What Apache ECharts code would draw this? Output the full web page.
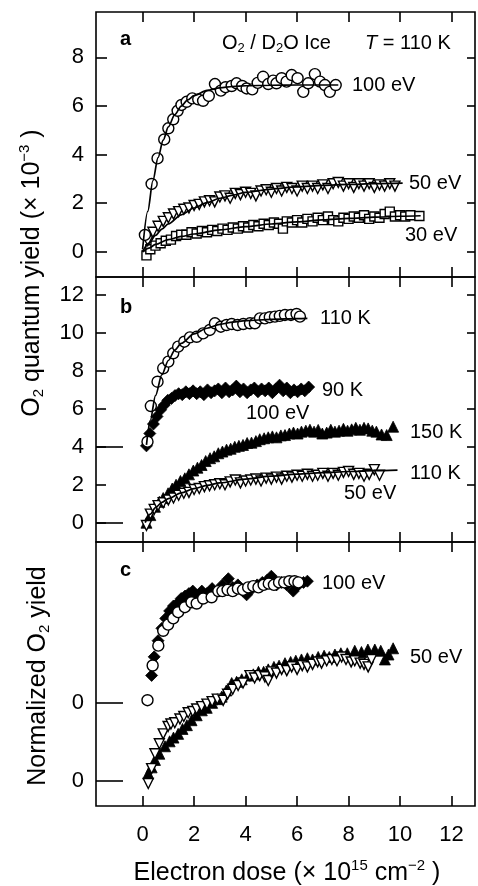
<!DOCTYPE html>
<html>
<head>
<meta charset="utf-8">
<title>O2 quantum yield vs electron dose</title>
<script src="https://cdn.jsdelivr.net/npm/echarts@6/dist/echarts.min.js"></script>
<style>
html, body { margin: 0; padding: 0; background: #fff; }
#main { width: 478px; height: 886px; }
</style>
</head>
<body>
<div id="main"></div>
<script>
// tick positions
var doseTicks = [0, 2, 4, 6, 8, 10, 12];
var yieldTicksA = [0, 2, 4, 6, 8];
var yieldTicksB = [0, 2, 4, 6, 8, 10, 12];
var zeroTicksB = [0, 4];
var zeroTicksC = [0];

// panel a: O2 / D2O ice, T = 110 K  [dose, yield x1e-3]
var a100eV = [[0.09,0.69],[0.35,2.79],[0.58,3.84],[0.84,4.62],[1.0,5.08],[1.19,5.45],[1.36,5.8],[1.51,6.04],
  [1.71,6.17],[1.93,6.31],[2.16,6.27],[2.35,6.21],[2.57,6.41],[2.81,6.9],[3.04,6.63],[3.22,6.77],[3.46,6.82],
  [3.65,6.93],[3.87,6.82],[4.04,6.72],[4.26,6.68],[4.47,6.95],[4.68,7.2],[4.88,6.9],[5.07,7.04],[5.2,6.93],
  [5.4,7.14],[5.59,7.0],[5.79,7.27],[6.02,7.14],[6.24,6.58],[6.43,6.93],[6.69,7.31],[6.89,7.0],[7.08,6.86],
  [7.27,6.58],[7.5,6.86]];
var a100eVFit = [[0,0.1],[0.2,1.66],[0.4,2.92],[0.6,3.87],[0.8,4.59],[1.0,5.14],[1.25,5.64],[1.5,5.99],
  [1.75,6.25],[2.0,6.42],[2.5,6.64],[3.0,6.74],[3.5,6.8],[4,6.83],[5,6.85],[6,6.86],[7,6.86],[7.6,6.86]];
var a50eV = [[0.2,0.45],[0.4,0.8],[0.6,1.05],[0.8,1.25],[1.0,1.4],[1.2,1.55],[1.4,1.65],[1.6,1.75],[1.8,1.8],
  [2.0,1.9],[2.2,1.95],[2.4,2.05],[2.6,2.1],[2.8,2.05],[3.0,2.25],[3.2,2.3],[3.4,2.2],[3.6,2.4],[3.8,2.35],
  [4.0,2.45],[4.2,2.4],[4.4,2.3],[4.6,2.5],[4.8,2.55],[5.0,2.45],[5.2,2.6],[5.4,2.5],[5.6,2.65],[5.8,2.6],
  [6.0,2.5],[6.2,2.7],[6.4,2.6],[6.6,2.7],[6.8,2.6],[7.0,2.75],[7.2,2.6],[7.4,2.8],[7.6,2.85],[7.8,2.7],
  [8.0,2.8],[8.2,2.65],[8.4,2.8],[8.6,2.7],[8.8,2.8],[9.0,2.65],[9.2,2.75],[9.4,2.7],[9.6,2.8],[9.8,2.7]];
var a50eVFit = [[0,0],[0.25,0.35],[0.5,0.67],[0.75,0.93],[1,1.15],[1.5,1.52],[2,1.8],[2.5,2.02],[3,2.2],
  [3.5,2.33],[4,2.44],[5,2.58],[6,2.67],[7,2.73],[8,2.77],[9,2.8],[10.1,2.82]];
var a30eV = [[0.15,-0.15],[0.3,0.1],[0.5,0.25],[0.7,0.35],[0.9,0.45],[1.1,0.5],[1.3,0.65],[1.5,0.7],[1.7,0.7],
  [1.9,0.8],[2.1,0.75],[2.3,0.85],[2.5,0.8],[2.7,0.9],[2.9,0.85],[3.1,0.95],[3.3,0.9],[3.5,1.0],[3.7,0.95],
  [3.9,1.05],[4.1,1.0],[4.3,1.1],[4.5,1.05],[4.7,1.15],[4.9,1.1],[5.1,1.2],[5.3,1.15],[5.45,0.95],[5.6,1.25],
  [5.8,1.2],[6.0,1.3],[6.2,1.2],[6.4,1.35],[6.6,1.25],[6.8,1.4],[7.0,1.3],[7.2,1.45],[7.4,1.3],[7.6,1.25],
  [7.8,1.4],[8.0,1.35],[8.2,1.45],[8.4,1.4],[8.6,1.5],[8.8,1.35],[9.0,1.45],[9.2,1.4],[9.4,1.55],[9.6,1.65],
  [9.8,1.45],[10.0,1.5],[10.2,1.45],[10.4,1.5],[10.75,1.47]];
var a30eVFit = [[0,0],[0.25,0.15],[0.5,0.3],[1,0.5],[1.5,0.63],[2,0.73],[3,0.9],[4,1.03],[5,1.14],[6,1.23],
  [7,1.31],[8,1.37],[9,1.42],[10,1.46],[10.8,1.48]];

// panel b: temperature series
var b110K100eV = [[0.19,4.27],[0.32,6.15],[0.58,7.43],[0.8,8.14],[1.0,8.49],[1.19,8.93],[1.38,9.28],[1.62,9.54],
  [1.84,9.77],[2.1,9.8],[2.35,9.98],[2.61,10.16],[2.81,10.51],[3.04,10.33],[3.26,10.42],[3.46,10.47],[3.69,10.42],
  [3.91,10.47],[4.17,10.51],[4.36,10.51],[4.56,10.77],[4.75,10.77],[4.94,10.83],[5.14,10.86],[5.33,10.9],
  [5.53,10.95],[5.76,10.95],[5.98,11.0],[6.11,10.86]];
var b110K100eVFit = [[0.15,4.1],[0.3,5.4],[0.5,6.7],[0.75,7.8],[1,8.55],[1.25,9.1],[1.5,9.45],[2,9.95],
  [2.5,10.25],[3,10.45],[3.5,10.57],[4,10.65],[5,10.72],[6,10.76],[6.4,10.77]];
var b90K = [[0.15,4.05],[0.28,4.7],[0.42,5.2],[0.56,5.6],[0.7,5.95],[0.84,6.2],[0.98,6.45],[1.12,6.55],[1.26,6.7],
  [1.4,6.8],[1.54,6.75],[1.68,6.9],[1.82,6.8],[1.96,6.95],[2.1,6.8],[2.24,6.9],[2.38,6.75],[2.52,7.0],[2.66,6.85],
  [2.8,6.95],[2.94,7.05],[3.08,6.85],[3.22,7.1],[3.36,6.9],[3.5,7.0],[3.64,7.2],[3.78,6.9],[3.92,7.05],[4.06,6.85],
  [4.2,7.0],[4.34,7.1],[4.48,6.9],[4.62,7.05],[4.76,6.95],[4.9,7.1],[5.04,6.85],[5.18,7.05],[5.32,7.25],[5.46,6.95],
  [5.6,7.1],[5.74,6.85],[5.88,7.0],[6.02,6.9],[6.16,7.05],[6.3,6.95],[6.45,7.15]];
var b150K = [[0.15,0.0],[0.3,0.4],[0.48,0.84],[0.65,1.1],[0.8,1.3],[0.99,1.55],[1.15,1.8],[1.3,2.0],[1.47,2.2],
  [1.64,2.34],[1.8,2.55],[1.97,2.75],[2.13,2.9],[2.29,3.04],[2.45,3.25],[2.62,3.4],[2.78,3.5],[2.94,3.66],[3.1,3.75],
  [3.26,3.85],[3.42,3.9],[3.58,4.0],[3.74,4.05],[3.9,4.1],[4.06,4.2],[4.23,4.22],[4.4,4.3],[4.55,4.4],[4.72,4.45],
  [4.88,4.5],[5.04,4.55],[5.2,4.5],[5.37,4.6],[5.53,4.62],[5.7,4.7],[5.86,4.75],[6.02,4.7],[6.17,4.8],[6.34,4.85],
  [6.5,4.9],[6.66,4.8],[6.82,4.89],[6.98,4.7],[7.15,4.75],[7.31,4.9],[7.47,4.8],[7.63,4.85],[7.8,4.95],[7.96,4.85],
  [8.12,4.92],[8.28,5.0],[8.44,4.9],[8.6,5.0],[8.76,4.97],[8.92,4.85],[9.08,4.8],[9.28,4.65],[9.48,4.62],[9.73,5.06]];
var b110K50eV = [[0.15,-0.15],[0.3,0.45],[0.45,0.7],[0.6,0.9],[0.8,1.05],[1.0,1.2],[1.2,1.3],[1.4,1.45],[1.6,1.55],
  [1.8,1.6],[2.0,1.75],[2.2,1.8],[2.4,1.9],[2.6,1.95],[2.8,2.0],[3.0,2.05],[3.2,2.0],[3.4,2.15],[3.6,2.25],[3.8,2.1],
  [4.0,2.2],[4.2,2.25],[4.4,2.3],[4.6,2.2],[4.8,2.35],[5.0,2.3],[5.2,2.4],[5.4,2.3],[5.6,2.45],[5.8,2.4],[6.0,2.5],
  [6.2,2.45],[6.4,2.55],[6.6,2.45],[6.8,2.5],[7.0,2.6],[7.2,2.45],[7.4,2.6],[7.6,2.5],[7.8,2.65],[8.0,2.7],
  [8.2,2.55],[8.4,2.6],[8.6,2.45],[8.8,2.55],[9.0,2.8],[9.2,2.5]];
var b110K50eVFit = [[0.1,0],[0.3,0.45],[0.5,0.8],[0.75,1.07],[1,1.27],[1.5,1.57],[2,1.8],[2.5,1.97],[3,2.1],
  [4,2.3],[5,2.45],[6,2.56],[7,2.64],[8,2.7],[9,2.74],[9.9,2.77]];

// panel c: normalized yields (each pair has its own zero)
var c100eV110K = [[0.19,0.02],[0.39,0.3],[0.61,0.46],[0.8,0.58],[0.99,0.63],[1.19,0.68],[1.38,0.73],[1.64,0.77],
  [1.9,0.81],[2.1,0.8],[2.35,0.84],[2.68,0.85],[2.94,0.9],[3.1,0.9],[3.3,0.91],[3.5,0.9],[3.7,0.92],[3.9,0.91],
  [4.1,0.93],[4.3,0.94],[4.5,0.93],[4.7,0.95],[4.9,0.96],[5.1,0.95],[5.3,0.97],[5.5,0.97],[5.7,0.98],[5.9,0.98],
  [6.05,0.97]];
var c100eV90K = [[0.35,0.22],[0.45,0.37],[0.6,0.5],[0.75,0.6],[0.9,0.68],[1.05,0.74],[1.2,0.78],[1.35,0.8],
  [1.5,0.84],[1.65,0.86],[1.8,0.88],[1.95,0.9],[2.1,0.86],[2.3,0.9],[2.5,0.88],[2.7,0.92],[2.9,0.9],[3.1,0.95],
  [3.33,1.0],[3.5,0.93],[3.7,0.95],[3.9,0.9],[4.04,0.87],[4.25,0.92],[4.45,0.95],[4.65,0.97],[4.85,0.99],
  [5.0,1.02],[5.2,0.95],[5.4,0.97],[5.6,0.95],[5.85,0.9],[6.05,0.95],[6.25,0.97],[6.4,0.98]];
var c50eV150K = [[0.22,0.06],[0.35,0.11],[0.48,0.17],[0.65,0.22],[0.87,0.28],[1.05,0.32],[1.2,0.35],[1.38,0.38],
  [1.55,0.42],[1.72,0.45],[1.9,0.49],[2.1,0.53],[2.3,0.57],[2.49,0.59],[2.7,0.63],[2.9,0.66],[3.07,0.68],[3.25,0.73],
  [3.46,0.79],[3.65,0.8],[3.85,0.82],[4.1,0.85],[4.3,0.86],[4.5,0.88],[4.7,0.88],[4.88,0.9],[5.1,0.92],[5.3,0.93],
  [5.53,0.95],[5.75,0.96],[5.95,0.97],[6.17,0.98],[6.4,0.99],[6.6,0.98],[6.82,1.0],[7.05,1.01],[7.25,1.0],
  [7.47,1.02],[7.7,1.03],[7.95,1.03],[8.24,1.05],[8.5,1.04],[8.75,1.06],[9.02,1.06],[9.25,1.05],[9.41,0.98],
  [9.55,1.02],[9.73,1.07]];
var c50eV110K = [[0.22,-0.02],[0.35,0.1],[0.48,0.22],[0.65,0.3],[0.8,0.38],[0.99,0.44],[1.1,0.46],[1.25,0.47],
  [1.45,0.5],[1.6,0.52],[1.77,0.55],[1.95,0.56],[2.1,0.58],[2.29,0.6],[2.5,0.62],[2.7,0.64],[2.9,0.66],[3.13,0.65],
  [3.3,0.7],[3.5,0.74],[3.71,0.77],[3.9,0.79],[4.17,0.85],[4.35,0.83],[4.55,0.85],[4.75,0.84],[4.88,0.81],[5.0,0.88],
  [5.2,0.87],[5.4,0.9],[5.6,0.89],[5.79,0.92],[6.0,0.9],[6.2,0.93],[6.4,0.92],[6.6,0.94],[6.8,0.96],[6.95,0.95],
  [7.15,0.97],[7.35,0.98],[7.55,0.97],[7.73,1.0],[7.9,0.98],[8.1,0.96],[8.24,0.97],[8.45,0.95],[8.6,0.94],
  [8.76,0.92],[8.89,0.98]];

var FONT = 'Liberation Sans';
var TICK = { color: '#000', width: 1.6 };
var RICH = {
  sub: { fontFamily: FONT, fontSize: 13, lineHeight: 13, verticalAlign: 'bottom', color: '#000' },
  sup: { fontFamily: FONT, fontSize: 13, lineHeight: 13, verticalAlign: 'top', color: '#000' },
  it: { fontFamily: FONT, fontSize: 20, fontStyle: 'italic', color: '#000' }
};
var RICH_BIG = {
  sub: { fontFamily: FONT, fontSize: 15, lineHeight: 15, verticalAlign: 'bottom', color: '#000' },
  sup: { fontFamily: FONT, fontSize: 15, lineHeight: 15, verticalAlign: 'top', color: '#000' }
};

function xPair(g, showLabels) {
  var base = { gridIndex: g, type: 'value', min: -1.81, max: 12.91,
    axisLine: { show: false, onZero: false }, splitLine: { show: false } };
  return [
    Object.assign({}, base, {
      position: 'bottom',
      axisTick: { inside: true, length: 10, customValues: doseTicks, lineStyle: TICK },
      axisLabel: { show: showLabels, customValues: doseTicks, margin: 18, fontSize: 22, fontFamily: FONT, color: '#000' }
    }),
    Object.assign({}, base, {
      position: 'top',
      axisTick: { inside: true, length: 10, customValues: doseTicks, lineStyle: TICK },
      axisLabel: { show: false }
    })
  ];
}

function yAxis(g, min, max, pos, ticks, len, labels) {
  return {
    gridIndex: g, type: 'value', min: min, max: max, position: pos,
    axisLine: { show: false, onZero: false }, splitLine: { show: false },
    axisTick: { inside: true, length: len, customValues: ticks, lineStyle: TICK },
    axisLabel: { show: labels, customValues: ticks, margin: 12, fontSize: 22, fontFamily: FONT, color: '#000' }
  };
}

function dots(data, xi, yi, symbol, size, filled, rotate) {
  return {
    type: 'scatter', data: data, xAxisIndex: xi, yAxisIndex: yi,
    symbol: symbol, symbolSize: size, symbolRotate: rotate || 0, z: 2,
    itemStyle: { color: filled ? '#000' : '#fff', borderColor: '#000', borderWidth: filled ? 0.8 : 1.4, opacity: 1 },
    emphasis: { disabled: true }
  };
}

function fit(data, xi, yi) {
  return {
    type: 'line', data: data, xAxisIndex: xi, yAxisIndex: yi, showSymbol: false, symbol: 'none',
    smooth: 0.3, smoothMonotone: 'x', z: 3,
    lineStyle: { color: '#000', width: 1.7 }
  };
}

function txt(text, x, y, opt) {
  opt = opt || {};
  return {
    type: 'text', x: x, y: y, rotation: opt.rotation || 0, z: 10,
    style: {
      text: text, fill: '#000', fontFamily: FONT, fontSize: opt.size || 20,
      fontWeight: opt.bold ? 'bold' : 'normal', lineHeight: opt.lh || 24,
      align: opt.align || 'left', verticalAlign: 'middle',
      textAlign: opt.align || 'left', textVerticalAlign: 'middle',
      rich: opt.rich || RICH
    }
  };
}

var chart = echarts.init(document.getElementById('main'), null, { renderer: 'canvas' });

var option = {
  backgroundColor: '#fff',
  animation: false,
  grid: [
    { left: 96, top: 12, width: 379, height: 265, show: true, borderColor: '#000', borderWidth: 1.6, outerBoundsMode: 'none' },
    { left: 96, top: 277, width: 379, height: 265, show: true, borderColor: '#000', borderWidth: 1.6, outerBoundsMode: 'none' },
    { left: 96, top: 542, width: 379, height: 264, show: true, borderColor: '#000', borderWidth: 1.6, outerBoundsMode: 'none' }
  ],
  xAxis: [].concat(xPair(0, false), xPair(1, false), xPair(2, true)),
  yAxis: [
    yAxis(0, -1.04, 9.865, 'left', yieldTicksA, 11, true),     // 0
    yAxis(0, -1.04, 9.865, 'right', yieldTicksA, 8, false),    // 1
    yAxis(1, -1.017, 12.95, 'left', yieldTicksB, 10, true),    // 2
    yAxis(1, -1.017, 12.95, 'right', yieldTicksB, 8, false),   // 3
    yAxis(1, -1.017, 12.95, 'left', zeroTicksB, 27, false),    // 4
    yAxis(2, -0.2016, 1.927, 'left', zeroTicksC, 27, true),    // 5 : 50 eV zero
    yAxis(2, -0.833, 1.296, 'left', zeroTicksC, 27, true)      // 6 : 100 eV zero
  ],
  series: [
    dots(a30eV, 0, 0, 'rect', 9, false),
    dots(a50eV, 0, 0, 'triangle', 10, false, 180),
    dots(a100eV, 0, 0, 'circle', 11, false),
    fit(a30eVFit, 0, 0),
    fit(a50eVFit, 0, 0),
    fit(a100eVFit, 0, 0),

    dots(b150K, 2, 2, 'triangle', 11, true),
    dots(b110K50eV, 2, 2, 'triangle', 10, false, 180),
    dots(b90K, 2, 2, 'diamond', 12, true),
    dots(b110K100eV, 2, 2, 'circle', 11, false),
    fit(b110K50eVFit, 2, 2),
    fit(b110K100eVFit, 2, 2),

    dots(c50eV150K, 4, 5, 'triangle', 11, true),
    dots(c50eV110K, 4, 5, 'triangle', 10, false, 180),
    dots(c100eV90K, 4, 6, 'diamond', 12, true),
    dots(c100eV110K, 4, 6, 'circle', 11, false)
  ],
  graphic: [
    txt('a', 120, 39, { bold: true }),
    txt('O{sub|2} / D{sub|2}O Ice', 222, 43),
    txt('{it|T} = 110 K', 365, 43),
    txt('100 eV', 352, 85),
    txt('50 eV', 409, 183),
    txt('30 eV', 405, 235),

    txt('b', 120, 307, { bold: true }),
    txt('110 K', 320, 318),
    txt('90 K', 322, 390),
    txt('100 eV', 246, 413),
    txt('150 K', 410, 432),
    txt('110 K', 410, 473),
    txt('50 eV', 344, 493),

    txt('c', 120, 570, { bold: true }),
    txt('100 eV', 322, 583),
    txt('50 eV', 410, 657),

    txt('Electron dose (× 10{sup|15} cm{sup|−2} )', 287, 873, { size: 25, lh: 29, align: 'center', rich: RICH_BIG }),
    txt('O{sub|2} quantum yield (× 10{sup|−3} )', 32, 273, { size: 25, lh: 29, align: 'center', rotation: Math.PI / 2, rich: RICH_BIG }),
    txt('Normalized O{sub|2} yield', 38, 676, { size: 25, lh: 29, align: 'center', rotation: Math.PI / 2, rich: RICH_BIG })
  ]
};

chart.setOption(option);
</script>
</body>
</html>
